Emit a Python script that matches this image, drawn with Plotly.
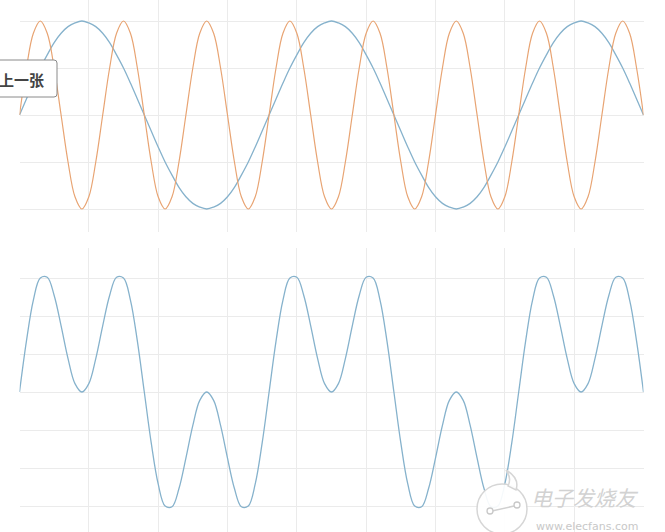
import plotly.graph_objects as go

# ---- data (x in degrees) ----
x_deg = [0, 10, 20, 30, 40, 50, 60, 70, 80, 90, 100, 110, 120, 130, 140, 150, 160, 170, 180,
         190, 200, 210, 220, 230, 240, 250, 260, 270, 280, 290, 300, 310, 320, 330, 340, 350,
         360, 370, 380, 390, 400, 410, 420, 430, 440, 450, 460, 470, 480, 490, 500, 510, 520,
         530, 540, 550, 560, 570, 580, 590, 600, 610, 620, 630, 640, 650, 660, 670, 680, 690,
         700, 710, 720, 730, 740, 750, 760, 770, 780, 790, 800, 810, 820, 830, 840, 850, 860,
         870, 880, 890, 900]

slow_wave = [0, .17, .34, .5, .64, .77, .87, .94, .98, 1, .98, .94, .87, .77, .64, .5, .34, .17,
             0, -.17, -.34, -.5, -.64, -.77, -.87, -.94, -.98, -1, -.98, -.94, -.87, -.77, -.64, -.5, -.34, -.17,
             0, .17, .34, .5, .64, .77, .87, .94, .98, 1, .98, .94, .87, .77, .64, .5, .34, .17,
             0, -.17, -.34, -.5, -.64, -.77, -.87, -.94, -.98, -1, -.98, -.94, -.87, -.77, -.64, -.5, -.34, -.17,
             0, .17, .34, .5, .64, .77, .87, .94, .98, 1, .98, .94, .87, .77, .64, .5, .34, .17, 0]

fast_wave = [0, .5, .87, 1, .87, .5, 0, -.5, -.87, -1, -.87, -.5,
             0, .5, .87, 1, .87, .5, 0, -.5, -.87, -1, -.87, -.5,
             0, .5, .87, 1, .87, .5, 0, -.5, -.87, -1, -.87, -.5,
             0, .5, .87, 1, .87, .5, 0, -.5, -.87, -1, -.87, -.5,
             0, .5, .87, 1, .87, .5, 0, -.5, -.87, -1, -.87, -.5,
             0, .5, .87, 1, .87, .5, 0, -.5, -.87, -1, -.87, -.5,
             0, .5, .87, 1, .87, .5, 0, -.5, -.87, -1, -.87, -.5,
             0, .5, .87, 1, .87, .5, 0]

sum_wave = [0, .67, 1.21, 1.5, 1.51, 1.27, .87, .44, .11, 0, .11, .44, .87, 1.27, 1.51, 1.5, 1.21, .67,
            0, -.67, -1.21, -1.5, -1.51, -1.27, -.87, -.44, -.11, 0, -.11, -.44, -.87, -1.27, -1.51, -1.5, -1.21, -.67,
            0, .67, 1.21, 1.5, 1.51, 1.27, .87, .44, .11, 0, .11, .44, .87, 1.27, 1.51, 1.5, 1.21, .67,
            0, -.67, -1.21, -1.5, -1.51, -1.27, -.87, -.44, -.11, 0, -.11, -.44, -.87, -1.27, -1.51, -1.5, -1.21, -.67,
            0, .67, 1.21, 1.5, 1.51, 1.27, .87, .44, .11, 0, .11, .44, .87, 1.27, 1.51, 1.5, 1.21, .67, 0]

x_ticks = [0, 100, 200, 300, 400, 500, 600, 700, 800, 900]
top_y_ticks = [-1, -0.5, 0, 0.5, 1]
bottom_y_ticks = [-1.5, -1, -0.5, 0, 0.5, 1, 1.5]

W, H = 665, 532
BLUE = "#86b2cc"
ORANGE = "#e8a473"
GRID = "#ebebeb"


def px(x):
    return x / W


def py(y):
    return 1 - y / H


fig = go.Figure()
fig.add_trace(go.Scatter(x=x_deg, y=slow_wave, mode="lines", line=dict(color=BLUE, width=1.3, shape="spline"),
                         xaxis="x", yaxis="y", hoverinfo="skip"))
fig.add_trace(go.Scatter(x=x_deg, y=fast_wave, mode="lines", line=dict(color=ORANGE, width=1.2, shape="spline"),
                         xaxis="x", yaxis="y", hoverinfo="skip"))
fig.add_trace(go.Scatter(x=x_deg, y=sum_wave, mode="lines", line=dict(color=BLUE, width=1.3, shape="spline"),
                         xaxis="x2", yaxis="y2", hoverinfo="skip"))

xdom = [px(19.5), px(643.5)]
axis_common = dict(showline=False, showticklabels=False, ticks="", gridcolor=GRID, gridwidth=1, zeroline=False)

fig.update_layout(
    width=W, height=H,
    margin=dict(l=0, r=0, t=0, b=0),
    paper_bgcolor="white", plot_bgcolor="white",
    showlegend=False,
    xaxis=dict(domain=xdom, range=[0, 900], tickvals=x_ticks, anchor="y", **axis_common),
    yaxis=dict(domain=[py(232), 1], range=[-1.2447, 1.2234], tickvals=top_y_ticks, anchor="x", **axis_common),
    xaxis2=dict(domain=xdom, range=[0, 900], tickvals=x_ticks, anchor="y2", **axis_common),
    yaxis2=dict(domain=[0, py(248)], range=[-1.842, 1.895], tickvals=bottom_y_ticks, anchor="x2", **axis_common),
)

# "上一张" button (rounded rectangle, partially cut at left)
x0, x1, y0, y1, r = -6, 57, 60, 97, 3
path = (f"M {px(x0)} {py(y0)} L {px(x1 - r)} {py(y0)} Q {px(x1)} {py(y0)} {px(x1)} {py(y0 + r)} "
        f"L {px(x1)} {py(y1 - r)} Q {px(x1)} {py(y1)} {px(x1 - r)} {py(y1)} L {px(x0)} {py(y1)} Z")
fig.add_shape(type="path", path=path, xref="paper", yref="paper",
              fillcolor="white", line=dict(color="#8a8a8a", width=1), layer="above")
fig.add_annotation(x=px(46), y=py(79), xref="paper", yref="paper", xanchor="right", yanchor="middle",
                   text="<b>上一张</b>", showarrow=False,
                   font=dict(family="Noto Sans CJK SC", size=15, color="#444444"))

# watermark logo
cx, cy, rad = 502, 509, 25
fig.add_shape(type="circle", xref="paper", yref="paper",
              x0=px(cx - rad), x1=px(cx + rad), y0=py(cy + rad), y1=py(cy - rad),
              fillcolor="rgba(255,255,255,0.92)", line=dict(color="#d6d6d6", width=1.5), layer="above")
fig.add_shape(type="path", xref="paper", yref="paper",
              path=f"M {px(508)} {py(486)} Q {px(512)} {py(478)} {px(506)} {py(470)} Q {px(520)} {py(478)} {px(516)} {py(490)} Z",
              fillcolor="rgba(255,255,255,0.92)", line=dict(color="#d6d6d6", width=1.5), layer="above")
fig.add_shape(type="line", xref="paper", yref="paper", x0=px(492), y0=py(511), x1=px(514), y1=py(506),
              line=dict(color="#d0d0d0", width=1.5), layer="above")
for (ccx, ccy) in [(490, 511), (517, 505)]:
    fig.add_shape(type="circle", xref="paper", yref="paper",
                  x0=px(ccx - 3), x1=px(ccx + 3), y0=py(ccy + 3), y1=py(ccy - 3),
                  fillcolor="white", line=dict(color="#c8c8c8", width=1.3), layer="above")
fig.add_annotation(x=px(585), y=py(497), xref="paper", yref="paper", xanchor="center", yanchor="middle",
                   text="<i>电子发烧友</i>", showarrow=False,
                   font=dict(family="Noto Sans CJK SC", size=21, color="#d2d2d2"))
fig.add_annotation(x=px(587), y=py(526), xref="paper", yref="paper", xanchor="center", yanchor="middle",
                   text="www.elecfans.com", showarrow=False,
                   font=dict(family="DejaVu Sans", size=11, color="#c8c8c8"))

fig.write_html("out.html", config={"displayModeBar": False})
